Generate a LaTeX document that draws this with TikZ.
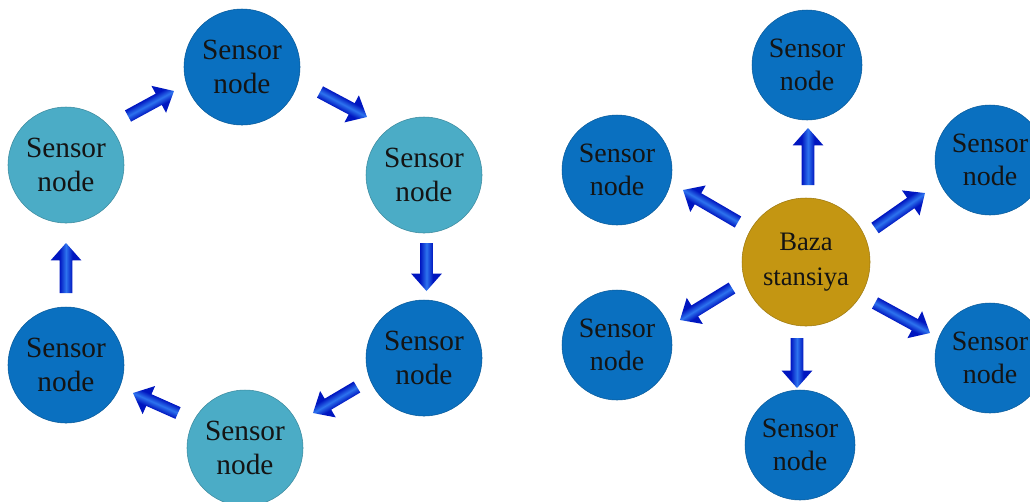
\documentclass[tikz,border=0pt]{standalone}
\usepackage{fontspec}
\setmainfont{Liberation Serif}
\usetikzlibrary{calc}

\definecolor{nodeblue}{RGB}{10,112,192}
\definecolor{nodeteal}{RGB}{75,172,198}
\definecolor{basegold}{RGB}{196,150,18}
\definecolor{ardark}{RGB}{0,22,192}
\definecolor{arlight}{RGB}{45,115,238}

% dark edges, light stripe along the middle of the shaft
\pgfdeclareverticalshading{arrowshade}{100bp}{color(0bp)=(ardark); color(25bp)=(ardark);
  color(39.6bp)=(ardark); color(50bp)=(arlight); color(60.4bp)=(ardark);
  color(75bp)=(ardark); color(100bp)=(ardark)}

\tikzset{
  sensor/.style={circle, inner sep=0pt, minimum size=87pt, draw=#1!80!black, line width=0.4pt,
    fill=#1, align=center, text=black!92, font=\fontsize{22}{26}\selectfont},
  sensor/.default=nodeblue,
  small/.style={minimum size=82.5pt, font=\fontsize{21}{25}\selectfont},
  base/.style={circle, inner sep=0pt, minimum size=96pt, draw=basegold!80!black, line width=0.4pt,
    fill=basegold, align=center, text=black!92, font=\fontsize{20}{26}\selectfont},
  blockarrowfill/.style={shading=arrowshade, shading angle=0, draw=none}
}

% block arrow between two points: straight shaft, triangular head at the second point
\newcommand\blockarrow[2]{%
  \path let \p1=#1, \p2=#2,
      \n1={atan2(\y2-\y1,\x2-\x1)}, \n2={veclen(\x2-\x1,\y2-\y1)} in
    \pgfextra{\xdef\baAng{\n1}\xdef\baLen{\n2}\xdef\baX{\x1}\xdef\baY{\y1}};
  \begin{scope}[transform canvas={shift={(\baX,\baY)},rotate=\baAng}]
    \shade[blockarrowfill] (0pt,-4.8pt) -- ({\baLen-13pt},-4.8pt) -- ({\baLen-13pt},-11.5pt)
      -- (\baLen,0pt) -- ({\baLen-13pt},11.5pt) -- ({\baLen-13pt},4.8pt) -- (0pt,4.8pt) -- cycle;
  \end{scope}}

\begin{document}
\begin{tikzpicture}[x=0.75pt,y=0.75pt]
\useasboundingbox (0,0) rectangle (1030,-501);
\clip (0,0) rectangle (1030,-501);

% ---- ring topology ----
\node[sensor] (top) at (242,-67)  {Sensor\\node};
\node[sensor=nodeteal] (ur) at (424,-175) {Sensor\\node};
\node[sensor] (lr)  at (424,-358) {Sensor\\node};
\node[sensor=nodeteal] (bot) at (245,-448) {Sensor\\node};
\node[sensor] (ll)  at (66,-365)  {Sensor\\node};
\node[sensor=nodeteal] (ul) at (66,-165) {Sensor\\node};

\blockarrow{($(ul)+(62,49)$)}{($(top)+(-68,-24)$)}
\blockarrow{($(top)+(78,-25)$)}{($(ur)+(-57,58)$)}
\blockarrow{($(ur)+(2.5,-68)$)}{($(lr)+(2.5,67)$)}
\blockarrow{($(lr)+(-67,-29)$)}{($(bot)+(68,35)$)}
\blockarrow{($(bot)+(-67,35)$)}{($(ll)+(67,-28)$)}
\blockarrow{($(ll)+(0,72)$)}{($(ul)+(0,-78)$)}

% ---- star topology ----
\node[base] (bs) at (806,-262) {Baza\\stansiya};
\node[sensor, small] (s1) at (807,-65)  {Sensor\\node};
\node[sensor, small] (s2) at (990,-160) {Sensor\\node};
\node[sensor, small] (s3) at (990,-358) {Sensor\\node};
\node[sensor, small] (s4) at (800,-445) {Sensor\\node};
\node[sensor, small] (s5) at (617,-345) {Sensor\\node};
\node[sensor, small] (s6) at (617,-170) {Sensor\\node};

\blockarrow{($(bs)+(2,77)$)}{($(s1)+(1,-63)$)}
\blockarrow{($(bs)+(69,34)$)}{($(s2)+(-65,-33)$)}
\blockarrow{($(bs)+(69,-41)$)}{($(s3)+(-60,25)$)}
\blockarrow{($(bs)+(-9,-76)$)}{($(s4)+(-3,57)$)}
\blockarrow{($(bs)+(-74,-26)$)}{($(s5)+(63,25)$)}
\blockarrow{($(bs)+(-68,40)$)}{($(s6)+(66,-20)$)}
\end{tikzpicture}
\end{document}
